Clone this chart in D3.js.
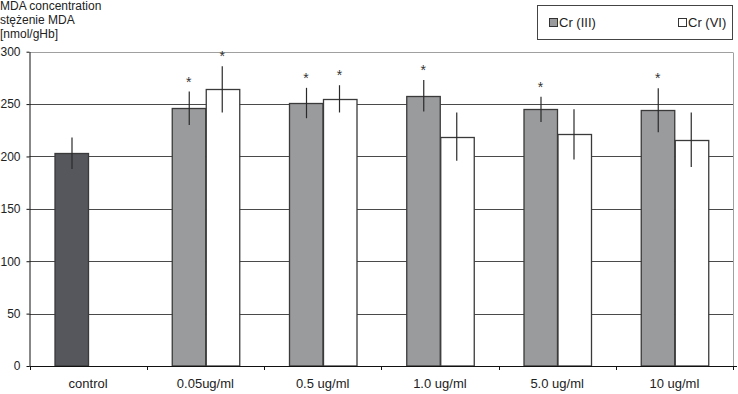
<!DOCTYPE html>
<html>
<head>
<meta charset="utf-8">
<script src="https://cdn.jsdelivr.net/npm/d3@7"></script>
<style>
  body { margin: 0; background: #fff; }
  svg { display: block; font-family: "Liberation Sans", Arial, sans-serif; }
</style>
</head>
<body>
<svg id="chart"></svg>
<script>
// data
const categories = ["control", "0.05ug/ml", "0.5 ug/ml", "1.0 ug/ml", "5.0 ug/ml", "10 ug/ml"];
const crIII = [203, 246, 251, 258, 245, 244];      // first value is the control bar
const crIIIErr = [15, 16, 14.5, 15, 12, 21];
const crIIISig = [false, true, true, true, true, true];
const crVI = [null, 264, 255, 219, 221, 216];
const crVIErr = [null, 22, 13, 23, 24, 26];
const crVISig = [false, true, true, false, false, false];
const yTicks = [0, 50, 100, 150, 200, 250, 300];
const yTitle = ["MDA concentration", "stężenie MDA", "[nmol/gHb]"];
const legendLabels = ["Cr (III)", "Cr (VI)"];

const w = 738, h = 394;
const plotL = 29.5, plotR = 733, plotT = 51.7, plotB = 366;
const fs = 13;

const svg = d3.select("#chart").attr("width", w).attr("height", h);

// scales
const x = d3.scaleBand().domain(categories).range([plotL, plotR]).padding(0);
const x1 = d3.scaleBand().domain(["III", "VI"]).range([0, x.bandwidth()])
  .paddingInner(0).paddingOuter(0.75);
const y = d3.scaleLinear().domain([0, 300]).range([plotB, plotT]);

// gridlines
svg.append("g")
  .selectAll("line")
  .data(yTicks.filter(d => d > 0))
  .join("line")
    .attr("x1", plotL).attr("x2", plotR)
    .attr("y1", d => Math.round(y(d)) + 0.5)
    .attr("y2", d => Math.round(y(d)) + 0.5)
    .attr("stroke", d => d === 300 ? "#a0a0a0" : "#4a4a4a")
    .attr("stroke-width", 1);

// right border of plot area
svg.append("line")
  .attr("x1", Math.round(plotR) + 0.5).attr("x2", Math.round(plotR) + 0.5)
  .attr("y1", Math.round(y(300)) + 0.5).attr("y2", plotB)
  .attr("stroke", "#a0a0a0");

// bars
const rows = categories.map((c, i) => ({
  cat: c,
  vals: [
    { key: "III", v: crIII[i], e: crIIIErr[i], sig: crIIISig[i], ctrl: i === 0 },
    { key: "VI", v: crVI[i], e: crVIErr[i], sig: crVISig[i], ctrl: false }
  ].filter(d => d.v != null)
}));

const groups = svg.append("g")
  .selectAll("g")
  .data(rows)
  .join("g")
    .attr("transform", d => `translate(${x(d.cat)},0)`);

groups.selectAll("rect")
  .data(d => d.vals)
  .join("rect")
    .attr("x", d => Math.round(x1(d.key)) + 0.5)
    .attr("y", d => Math.round(y(d.v)) + 0.5)
    .attr("width", x1.bandwidth())
    .attr("height", d => plotB - Math.round(y(d.v)) - 0.5)
    .attr("fill", d => d.ctrl ? "#55575c" : (d.key === "III" ? "#9a9b9d" : "#ffffff"))
    .attr("stroke", "#3a3a3a")
    .attr("stroke-width", 1.3);

// error bars
groups.selectAll("line.err")
  .data(d => d.vals)
  .join("line")
    .attr("class", "err")
    .attr("x1", d => Math.round(x1(d.key) + x1.bandwidth() / 2) + 0.5)
    .attr("x2", d => Math.round(x1(d.key) + x1.bandwidth() / 2) + 0.5)
    .attr("y1", d => y(d.v + d.e))
    .attr("y2", d => y(d.v - d.e))
    .attr("stroke", "#2a2a2a")
    .attr("stroke-width", 1.2);

// significance stars
groups.selectAll("text.star")
  .data(d => d.vals.filter(v => v.sig))
  .join("text")
    .attr("class", "star")
    .attr("x", d => x1(d.key) + x1.bandwidth() / 2)
    .attr("y", d => y(d.v + d.e) - 5)
    .attr("text-anchor", "middle")
    .attr("font-size", 14)
    .attr("fill", "#333")
    .text("*");

// y axis
const yAxis = d3.axisLeft(y).tickValues(yTicks).tickSize(3).tickPadding(6).tickSizeOuter(0);
const gy = svg.append("g").attr("transform", `translate(${plotL},0)`).call(yAxis);
gy.select(".domain").attr("stroke", "#111");
gy.selectAll(".tick line").attr("stroke", "#111");
gy.selectAll("text").attr("font-size", 12).attr("fill", "#222")
  .attr("font-family", "Liberation Sans, Arial, sans-serif");

// x axis with ticks at category boundaries
const gx = svg.append("g").attr("transform", `translate(0,${plotB})`);
gx.append("line").attr("x1", plotL).attr("x2", plotR + 4)
  .attr("y1", 0.5).attr("y2", 0.5).attr("stroke", "#111");
gx.selectAll("line.tk")
  .data(categories.concat(["end"]))
  .join("line")
    .attr("class", "tk")
    .attr("x1", (d, i) => Math.round(plotL + i * x.step()) + 0.5)
    .attr("x2", (d, i) => Math.round(plotL + i * x.step()) + 0.5)
    .attr("y1", 0).attr("y2", 4)
    .attr("stroke", "#111");
gx.selectAll("text")
  .data(categories)
  .join("text")
    .attr("x", d => x(d) + x.bandwidth() / 2)
    .attr("y", 21.5)
    .attr("text-anchor", "middle")
    .attr("font-size", fs)
    .attr("fill", "#222")
    .text(d => d);

// y title
svg.append("text")
  .attr("font-size", 12)
  .attr("fill", "#222")
  .selectAll("tspan")
  .data(yTitle)
  .join("tspan")
    .attr("x", 0)
    .attr("y", (d, i) => 10 + i * 14)
    .text(d => d);

// legend
const lg = svg.append("g");
lg.append("rect")
  .attr("x", 537.5).attr("y", 5.5).attr("width", 195).attr("height", 34)
  .attr("fill", "#fff").attr("stroke", "#444");
const legendX = [549, 678];
lg.selectAll("rect.sw")
  .data(legendLabels)
  .join("rect")
    .attr("class", "sw")
    .attr("x", (d, i) => legendX[i] + 0.5).attr("y", 18.5)
    .attr("width", 8).attr("height", 8)
    .attr("fill", (d, i) => i === 0 ? "#9a9b9d" : "#fff")
    .attr("stroke", "#333");
lg.selectAll("text")
  .data(legendLabels)
  .join("text")
    .attr("x", (d, i) => legendX[i] + 10)
    .attr("y", 27)
    .attr("font-size", fs)
    .attr("fill", "#222")
    .text(d => d);
</script>
</body>
</html>
